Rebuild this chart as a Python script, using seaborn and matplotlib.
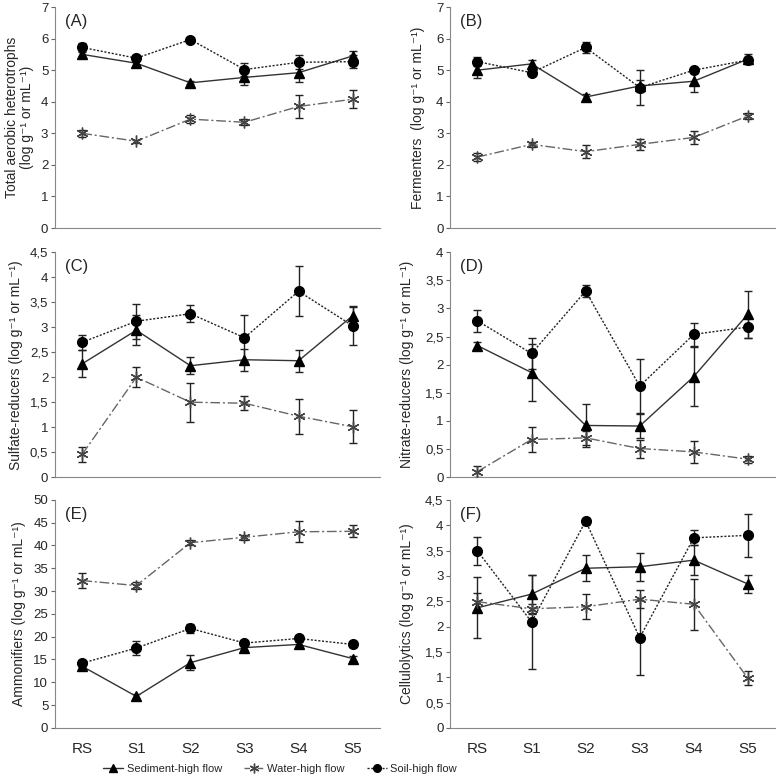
import numpy as np
import pandas as pd
import matplotlib
matplotlib.use('Agg')
import matplotlib.pyplot as plt
import seaborn as sns
from matplotlib.ticker import FuncFormatter, MultipleLocator, FixedLocator
from matplotlib.lines import Line2D

sns.set_style('white')
plt.rcParams['font.family'] = ['Liberation Sans', 'DejaVu Sans']

sites = ['RS', 'S1', 'S2', 'S3', 'S4', 'S5']
groups = ['Sediment-high flow', 'Water-high flow', 'Soil-high flow']

# (A) Total aerobic heterotrophs
a_sed = [5.50, 5.22, 4.60, 4.77, 4.92, 5.45]
a_sed_err = [0.10, 0.10, 0.05, 0.25, 0.30, 0.15]
a_wat = [3.00, 2.75, 3.45, 3.35, 3.85, 4.08]
a_wat_err = [0.12, 0.05, 0.12, 0.10, 0.35, 0.28]
a_soil = [5.72, 5.38, 5.97, 5.02, 5.25, 5.27]
a_soil_err = [0.15, 0.10, 0.05, 0.22, 0.22, 0.20]

# (B) Fermenters
b_sed = [5.00, 5.20, 4.15, 4.50, 4.65, 5.35]
b_sed_err = [0.25, 0.12, 0.08, 0.20, 0.35, 0.15]
b_wat = [2.25, 2.65, 2.42, 2.65, 2.87, 3.55]
b_wat_err = [0.12, 0.08, 0.20, 0.18, 0.20, 0.10]
b_soil = [5.27, 4.92, 5.72, 4.45, 5.00, 5.32]
b_soil_err = [0.15, 0.08, 0.18, 0.55, 0.08, 0.10]

# (C) Sulfate-reducers
c_sed = [2.27, 2.94, 2.23, 2.35, 2.33, 3.23]
c_sed_err = [0.27, 0.30, 0.17, 0.22, 0.22, 0.20]
c_wat = [0.46, 2.00, 1.50, 1.48, 1.22, 1.01]
c_wat_err = [0.15, 0.20, 0.39, 0.14, 0.35, 0.33]
c_soil = [2.70, 3.12, 3.27, 2.79, 3.72, 3.03]
c_soil_err = [0.15, 0.35, 0.17, 0.46, 0.50, 0.38]

# (D) Nitrate-reducers
d_sed = [2.34, 1.86, 0.92, 0.91, 1.79, 2.90]
d_sed_err = [0.07, 0.50, 0.38, 0.22, 0.52, 0.42]
d_wat = [0.10, 0.67, 0.70, 0.51, 0.45, 0.32]
d_wat_err = [0.10, 0.22, 0.12, 0.16, 0.20, 0.06]
d_soil = [2.78, 2.20, 3.31, 1.62, 2.54, 2.67]
d_soil_err = [0.20, 0.28, 0.10, 0.48, 0.20, 0.20]

# (E) Ammonifiers
e_sed = [13.5, 6.9, 14.3, 17.6, 18.3, 15.2]
e_sed_err = [0.5, 0.5, 1.6, 0.6, 0.5, 0.5]
e_wat = [32.3, 31.2, 40.6, 41.8, 43.0, 43.1]
e_wat_err = [1.7, 0.8, 0.6, 0.6, 2.3, 1.3]
e_soil = [14.2, 17.5, 21.8, 18.6, 19.6, 18.3]
e_soil_err = [0.6, 1.5, 1.0, 0.5, 0.5, 0.5]

# (F) Cellulolytics
f_sed = [2.37, 2.64, 3.15, 3.18, 3.31, 2.84]
f_sed_err = [0.60, 0.37, 0.26, 0.28, 0.30, 0.17]
f_wat = [2.49, 2.35, 2.39, 2.54, 2.44, 0.98]
f_wat_err = [0.18, 0.10, 0.25, 0.18, 0.50, 0.14]
f_soil = [3.49, 2.09, 4.08, 1.78, 3.75, 3.80]
f_soil_err = [0.27, 0.92, 0.07, 0.74, 0.15, 0.42]

unit = '(log g\u207b\u00b9 or mL\u207b\u00b9)'
panels = [
    ('(A)', 'Total aerobic heterotrophs\n' + unit, a_sed, a_sed_err, a_wat, a_wat_err, a_soil, a_soil_err, 7, 1),
    ('(B)', 'Fermenters  ' + unit, b_sed, b_sed_err, b_wat, b_wat_err, b_soil, b_soil_err, 7, 1),
    ('(C)', 'Sulfate-reducers ' + unit, c_sed, c_sed_err, c_wat, c_wat_err, c_soil, c_soil_err, 4.5, 0.5),
    ('(D)', 'Nitrate-reducers ' + unit, d_sed, d_sed_err, d_wat, d_wat_err, d_soil, d_soil_err, 4, 0.5),
    ('(E)', 'Ammonifiers ' + unit, e_sed, e_sed_err, e_wat, e_wat_err, e_soil, e_soil_err, 50, 5),
    ('(F)', 'Cellulolytics ' + unit, f_sed, f_sed_err, f_wat, f_wat_err, f_soil, f_soil_err, 4.5, 0.5),
]

colors = {'Sediment-high flow': '#333333', 'Water-high flow': '#666666', 'Soil-high flow': '#222222'}
markers = {'Sediment-high flow': '^', 'Water-high flow': (6, 2, 0), 'Soil-high flow': 'o'}
dashes = {'Sediment-high flow': None, 'Water-high flow': (7, 2, 1.5, 2), 'Soil-high flow': (1.5, 1.2)}
msizes = {'Sediment-high flow': 6.5, 'Water-high flow': 8.5, 'Soil-high flow': 7}

fig = plt.figure(figsize=(7.78, 7.81), dpi=100)
lefts = [0.071, 0.579]
bottoms = [0.708, 0.389, 0.068]
heights = [0.283, 0.288, 0.292]
width = 0.417

comma = FuncFormatter(lambda v, p: ('%g' % v).replace('.', ','))

for i, (tag, ylab, sed, sed_e, wat, wat_e, soil, soil_e, ymax, step) in enumerate(panels):
    row, col = divmod(i, 2)
    ax = fig.add_axes([lefts[col], bottoms[row], width, heights[row]])
    df = pd.DataFrame({
        'site': np.tile(np.arange(6), 3),
        'value': sed + wat + soil,
        'err': sed_e + wat_e + soil_e,
        'group': np.repeat(groups, 6),
    })
    for g in groups:
        sub = df[df['group'] == g]
        ax.errorbar(sub['site'], sub['value'], yerr=sub['err'], fmt='none',
                    ecolor='#222222', elinewidth=1, capsize=3, capthick=1, zorder=2)
        sns.lineplot(data=sub, x='site', y='value', color=colors[g], marker=markers[g],
                     ax=ax, linewidth=1, zorder=3)
        line = ax.get_lines()[-1]
        if dashes[g] is not None:
            line.set_dashes(dashes[g])
        line.set_markersize(msizes[g])
        line.set_markerfacecolor('black' if g != 'Water-high flow' else 'none')
        line.set_markeredgecolor('black' if g != 'Water-high flow' else '#444444')
        line.set_markeredgewidth(1)

    ax.set_xlim(-0.5, 5.5)
    ax.set_ylim(0, ymax)
    ax.yaxis.set_major_locator(MultipleLocator(step))
    ax.yaxis.set_major_formatter(comma)
    ax.xaxis.set_major_locator(FixedLocator(np.arange(6)))
    ax.xaxis.set_minor_locator(FixedLocator(np.arange(-0.5, 6, 1)))
    if row == 2:
        ax.set_xticklabels(sites, fontsize=11)
    else:
        ax.set_xticklabels([])
    ax.tick_params(axis='x', which='major', length=0, pad=10)
    ax.tick_params(axis='x', which='minor', length=4, direction='in', color='#666666', width=0.8)
    ax.tick_params(axis='y', length=3, direction='out', color='#666666', width=0.8, labelsize=9.5, pad=2,
                   left=True)
    ax.set_xlabel('')
    ax.set_ylabel(ylab, fontsize=10, labelpad=5 if col == 0 else 8, linespacing=1.1)
    for s in ['top', 'right']:
        ax.spines[s].set_visible(False)
    for s in ['left', 'bottom']:
        ax.spines[s].set_color('#888888')
        ax.spines[s].set_linewidth(0.8)
    ax.text(0.03, 0.97, tag, transform=ax.transAxes, fontsize=12, va='top', ha='left')

handles = [
    Line2D([], [], color='#333333', lw=1, marker='^', markersize=5.5, markerfacecolor='black', markeredgecolor='black'),
    Line2D([], [], color='#666666', lw=1, dashes=(4, 2, 1.5, 2), marker=(6, 2, 0), markersize=7, markeredgecolor='#444444'),
    Line2D([], [], color='#222222', lw=1, dashes=(1.5, 1.2), marker='o', markersize=5.5, markerfacecolor='black', markeredgecolor='black'),
]
fig.legend(handles, groups, loc='center', bbox_to_anchor=(0.36, 0.016), ncol=3, frameon=False,
           fontsize=8, handlelength=1.8, handletextpad=0.3, columnspacing=2.0)

fig.savefig('out.png', dpi=100)
